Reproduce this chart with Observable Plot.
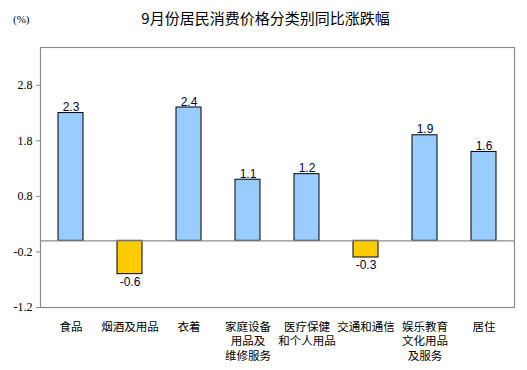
<!DOCTYPE html>
<html><head><meta charset="utf-8">
<script src="https://cdn.jsdelivr.net/npm/d3@7"></script>
<script src="https://cdn.jsdelivr.net/npm/@observablehq/plot@0.6"></script>
<style>
body{margin:0;background:#fff;}
#wrap{position:relative;width:527px;height:370px;}
#title{position:absolute;left:0;width:527px;top:7px;text-align:center;font:15px "Noto Sans CJK SC",sans-serif;color:#000;padding-left:2px;}
#unit{position:absolute;left:13px;top:13px;font:11px "Liberation Serif",serif;color:#000;}
#chart{position:absolute;left:0;top:0;}
</style></head><body>
<div id="wrap">
<div id="chart"></div>
<div id="title">9月份居民消费价格分类别同比涨跌幅</div>
<div id="unit">(%)</div>
</div>
<script>
const categories = ["食品","烟酒及用品","衣着","家庭设备用品及维修服务","医疗保健和个人用品","交通和通信","娱乐教育文化用品及服务","居住"];
const tickLabels = ["食品","烟酒及用品","衣着","家庭设备\n用品及\n维修服务","医疗保健\n和个人用品","交通和通信","娱乐教育\n文化用品\n及服务","居住"];
const values = [2.3,-0.6,2.4,1.1,1.2,-0.3,1.9,1.6];
const yTicks = [-1.2,-0.2,0.8,1.8,2.8];
const data = categories.map((c,i)=>({c, v: values[i]}));
const labelOf = new Map(categories.map((c,i)=>[c,tickLabels[i]]));
const fmt = v => v.toFixed(1);

const plot = Plot.plot({
  width: 527, height: 370,
  marginTop: 47, marginLeft: 40, marginRight: 13, marginBottom: 63,
  style: {fontFamily: "Noto Sans CJK SC, sans-serif", fontSize: "12px", color:"#000", background:"transparent"},
  x: {domain: categories, paddingInner: 0.58, paddingOuter: 0.29, label: null},
  y: {domain: [-1.2, 3.48], label: null},
  marks: [
    Plot.barY(data, {x:"c", y:"v", fill: d => d.v >= 0 ? "#99CCFF" : "#FFCC00", stroke:"#000", strokeWidth:1}),
    Plot.ruleY([0], {stroke:"#8c8c8c", strokeWidth:1.2}),
    Plot.frame({stroke:"#8c8c8c", strokeWidth:1.2}),
    Plot.axisY({ticks: yTicks, tickSize: 4, tickPadding: 4, tickFormat: fmt, fontFamily:"Liberation Serif, serif", fontSize: 12, stroke:"#8c8c8c"}),
    Plot.axisX({tickSize: 0, tickPadding: 13, tickFormat: d => labelOf.get(d), fontSize: 11.5, lineHeight: 1.27}),
    Plot.text(data, {x:"c", y:"v", text: d => fmt(d.v), lineAnchor: "bottom", filter: d => d.v >= 0, dy: -2, fill:"#000033", fontFamily:"Liberation Sans, Arial, sans-serif", fontSize: 12}),
    Plot.text(data, {x:"c", y:"v", text: d => fmt(d.v), lineAnchor: "top", filter: d => d.v < 0, dy: 3, fill:"#000033", fontFamily:"Liberation Sans, Arial, sans-serif", fontSize: 12})
  ]
});
document.getElementById("chart").appendChild(plot);
</script>
</body></html>
